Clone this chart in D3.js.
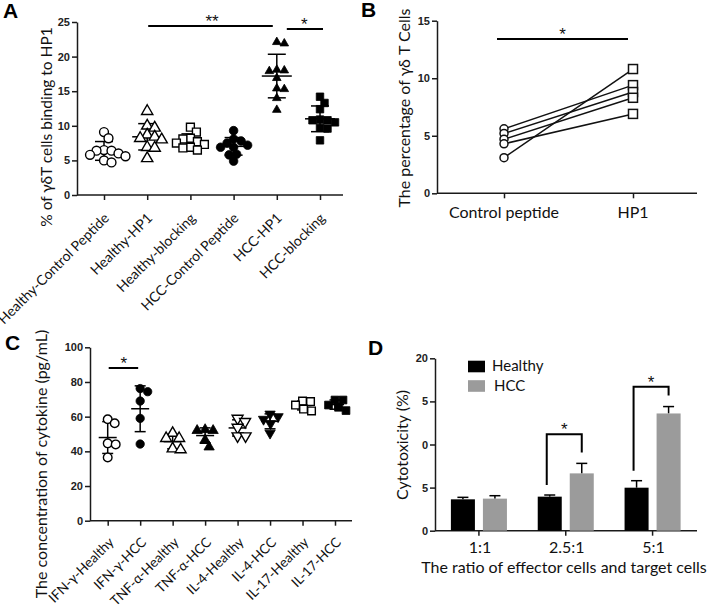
<!DOCTYPE html>
<html><head><meta charset="utf-8">
<script src="https://cdn.jsdelivr.net/npm/d3@7"></script>
<style>body{margin:0;background:#fff}</style>
</head><body>
<script>
// ---------- DATA ----------
// Panel A
const catsA = ["Healthy-Control Peptide","Healthy-HP1","Healthy-blocking","HCC-Control Peptide","HCC-HP1","HCC-blocking"];
const aHealthyControl = [9.1, 8.2, 6.5, 6.4, 6.4, 6.0, 5.8, 5.6, 5.0, 4.7];
const aHealthyHP1     = [12.1, 10.0, 9.7, 8.7, 8.4, 8.2, 8.0, 6.9, 6.8, 5.3];
const aHealthyBlock   = [9.8, 9.1, 8.2, 8.1, 7.7, 7.5, 7.3, 6.9, 6.8, 6.5];
const aHCCControl     = [9.3, 8.1, 7.8, 7.5, 7.2, 6.9, 6.9, 5.9, 5.8, 4.9];
const aHCCHP1         = [22.1, 21.9, 18.1, 18.0, 17.9, 16.9, 15.4, 15.3, 14.0, 12.3];
const aHCCBlock       = [14.2, 13.3, 12.4, 10.9, 10.8, 10.8, 10.5, 9.7, 9.6, 7.9];
const yTicksA = [0, 5, 10, 15, 20, 25];
// Panel B
const catsB = ["Control peptide", "HP1"];
const bControl = [5.6, 5.2, 4.7, 4.3, 3.1];
const bHP1     = [9.4, 8.8, 8.3, 6.9, 10.8];
const yTicksB = [0, 5, 10, 15];
// Panel C
const catsC = ["IFN-γ-Healthy","IFN-γ-HCC","TNF-α-Healthy","TNF-α-HCC","IL-4-Healthy","IL-4-HCC","IL-17-Healthy","IL-17-HCC"];
const cIFNHealthy = [58.5, 56.2, 44.6, 44.0, 36.5];
const cIFNHCC     = [76.2, 74.4, 69.0, 59.0, 44.2];
const cTNFHealthy = [50.5, 47.5, 47.5, 41.5, 41.0];
const cTNFHCC     = [52.5, 52.0, 52.0, 46.5, 42.5];
const cIL4Healthy = [59.0, 57.1, 53.8, 48.8, 48.8];
const cIL4HCC     = [61.5, 60.0, 58.5, 56.0, 50.5];
const cIL17Healthy= [69.0, 68.7, 66.7, 64.4, 63.3];
const cIL17HCC    = [69.6, 69.6, 66.7, 65.4, 63.5];
const yTicksC = [0, 20, 40, 60, 80, 100];
// Panel D
const ratiosD = ["1:1", "2.5:1", "5:1"];
const seriesD = ["Healthy", "HCC"];
const dHealthy    = [3.64, 3.95, 4.99];
const dHealthyErr = [0.23, 0.19, 0.81];
const dHCC        = [3.72, 6.65, 13.6];
const dHCCErr     = [0.34, 1.16, 0.80];
const yTicksD = [0, 5, 10, 15, 20];
const yTickLabelsD = ["0", "5", "0", "5", "20"];
const sigD = [{ratio: "2.5:1", top: 11.2}, {ratio: "5:1", top: 16.7}];

// ---------- HELPERS ----------
const W = 708, H = 616;
const svg = d3.select("body").append("svg").attr("width", W).attr("height", H);
svg.append("rect").attr("width", W).attr("height", H).attr("fill", "#fff");
const SANS = "Lato, 'Open Sans', sans-serif";
const TICKF = "'Liberation Sans', Arial, sans-serif";
const INK = "#1a1a1a";

function styleAxis(g) {
  g.selectAll("path,line").attr("stroke", INK).attr("stroke-width", 1.5);
  g.selectAll("text").attr("font-family", TICKF).attr("font-weight", "bold")
    .attr("font-size", 11).attr("fill", "#222");
}
function swarm(vals, y, D) {
  const pts = vals.map(v => ({v, y: y(v), off: 0}));
  const placed = [];
  pts.forEach(p => {
    for (let k = 0; k < 200; k++) {
      const off = (k % 2 ? 1 : -1) * Math.ceil(k / 2) * 0.5;
      if (placed.every(q => (off - q.off) ** 2 + (p.y - q.y) ** 2 >= D * D)) { p.off = off; break; }
    }
    placed.push(p);
  });
  return pts;
}
function letter(x, y, t) {
  svg.append("text").attr("x", x).attr("y", y).text(t)
    .attr("font-family", TICKF).attr("font-weight", "bold").attr("font-size", 21).attr("fill", "#000");
}
function ytitle(x, y, t, size) {
  svg.append("text").attr("transform", `translate(${x},${y}) rotate(-90)`)
    .attr("text-anchor", "middle").attr("font-family", SANS).attr("font-size", size)
    .attr("fill", "#111").text(t);
}
function star(x, y, t) {
  svg.append("text").attr("x", x).attr("y", y).attr("text-anchor", "middle")
    .attr("font-family", TICKF).attr("font-size", 17).attr("fill", "#111").text(t);
}
function hline(x1, x2, y) {
  svg.append("line").attr("x1", x1).attr("x2", x2).attr("y1", y).attr("y2", y)
    .attr("stroke", "#000").attr("stroke-width", 2);
}
function drawMarker(g, shape, filled, x, y, size) {
  const s = {circle: d3.symbolCircle, triangle: d3.symbolTriangle, tridown: d3.symbolTriangle, square: d3.symbolSquare}[shape];
  const rot = shape === "tridown" ? " rotate(180)" : "";
  g.append("path").attr("d", d3.symbol(s, size)())
    .attr("transform", `translate(${x},${y})${rot}`)
    .attr("fill", filled ? "#000" : "#fff").attr("stroke", "#000").attr("stroke-width", filled ? 0.8 : 1.4);
}
function meanSD(g, x, vals, y, hw, cw) {
  const m = d3.mean(vals), sd = d3.deviation(vals);
  const L = (x1, x2, y1, y2) => g.append("line").attr("x1", x1).attr("x2", x2).attr("y1", y1).attr("y2", y2)
    .attr("stroke", "#000").attr("stroke-width", 1.5);
  L(x - hw, x + hw, y(m), y(m));
  L(x, x, y(m - sd), y(m + sd));
  L(x - cw, x + cw, y(m + sd), y(m + sd));
  L(x - cw, x + cw, y(m - sd), y(m - sd));
}

// ---------- PANEL A ----------
{
  const valsA = [aHealthyControl, aHealthyHP1, aHealthyBlock, aHCCControl, aHCCHP1, aHCCBlock];
  const styleA = [["circle", false, 62], ["triangle", false, 55], ["square", false, 62],
                  ["circle", true, 58], ["triangle", true, 32], ["square", true, 56]];
  const y = d3.scaleLinear([0, 25], [195, 22]);
  const x = d3.scalePoint(catsA, [104, 320]);
  const g = svg.append("g");
  const ya = g.append("g").attr("transform", "translate(77,0)")
    .call(d3.axisLeft(y).tickValues(yTicksA).tickSize(5).tickSizeOuter(0).tickPadding(2));
  styleAxis(ya);
  const xa = g.append("g").attr("transform", "translate(0,195)")
    .call(d3.axisBottom(x).tickSize(5).tickSizeOuter(0).tickFormat(""));
  styleAxis(xa);
  xa.select(".domain").attr("d", "M77,0H343");
  catsA.forEach(c => {
    g.append("text").attr("transform", `translate(${x(c) + 6},${219}) rotate(-45)`)
      .attr("text-anchor", "end").attr("font-family", SANS).attr("font-size", 14)
      .attr("fill", "#111").text(c);
  });
  valsA.forEach((vals, i) => {
    const cx = x(catsA[i]);
    meanSD(g, cx, vals, y, 15, 9);
    swarm(vals, y, 7.5).forEach(p => drawMarker(g, styleA[i][0], styleA[i][1], cx + p.off, p.y, styleA[i][2]));
  });
  ytitle(52, 127, "% of γδT cells binding to HP1", 15.5);
  hline(x("Healthy-HP1") + 1, x("HCC-HP1") - 4, 26);
  star((x("Healthy-HP1") + x("HCC-HP1")) / 2, 27, "**");
  hline(x("HCC-HP1") + 10, x("HCC-blocking") + 3, 29);
  star((x("HCC-HP1") + x("HCC-blocking")) / 2 + 6, 30, "*");
  letter(3, 18, "A");
}

// ---------- PANEL B ----------
{
  const y = d3.scaleLinear([0, 15], [193.3, 20.7]);
  const x = d3.scalePoint(catsB, [504, 633]);
  const g = svg.append("g");
  const ya = g.append("g").attr("transform", "translate(437,0)")
    .call(d3.axisLeft(y).tickValues(yTicksB).tickSize(5).tickSizeOuter(0).tickPadding(2));
  styleAxis(ya);
  const xa = g.append("g").attr("transform", "translate(0,193.3)")
    .call(d3.axisBottom(x).tickSize(5).tickSizeOuter(0).tickFormat(""));
  styleAxis(xa);
  xa.select(".domain").attr("d", "M437,0H697");
  catsB.forEach(c => g.append("text").attr("x", x(c)).attr("y", 218).attr("text-anchor", "middle")
    .attr("font-family", SANS).attr("font-size", 16).attr("fill", "#111").text(c));
  bControl.forEach((v, i) => {
    g.append("line").attr("x1", x(catsB[0])).attr("y1", y(v)).attr("x2", x(catsB[1])).attr("y2", y(bHP1[i]))
      .attr("stroke", "#111").attr("stroke-width", 1.5);
  });
  bControl.forEach(v => g.append("circle").attr("cx", x(catsB[0])).attr("cy", y(v)).attr("r", 4)
    .attr("fill", "#fff").attr("stroke", "#111").attr("stroke-width", 1.5));
  bHP1.forEach(v => g.append("rect").attr("x", x(catsB[1]) - 4.5).attr("y", y(v) - 4.5).attr("width", 9).attr("height", 9)
    .attr("fill", "#fff").attr("stroke", "#111").attr("stroke-width", 1.5));
  ytitle(410, 108, "The percentage of γδ T Cells", 16);
  hline(x(catsB[0]) - 7, x(catsB[1]) - 5, 39);
  star((x(catsB[0]) + x(catsB[1])) / 2 - 6, 40, "*");
  letter(361, 17, "B");
}

// ---------- PANEL C ----------
{
  const valsC = [cIFNHealthy, cIFNHCC, cTNFHealthy, cTNFHCC, cIL4Healthy, cIL4HCC, cIL17Healthy, cIL17HCC];
  const styleC = [["circle", false, 58], ["circle", true, 55], ["triangle", false, 52], ["triangle", true, 46],
                  ["tridown", false, 52], ["tridown", true, 46], ["square", false, 58], ["square", true, 60]];
  const y = d3.scaleLinear([0, 100], [520.7, 347.3]);
  const x = d3.scalePoint(catsC, [107.7, 335]);
  const g = svg.append("g");
  const ya = g.append("g").attr("transform", "translate(90,0)")
    .call(d3.axisLeft(y).tickValues(yTicksC).tickSize(5).tickSizeOuter(0).tickPadding(2));
  styleAxis(ya);
  const xa = g.append("g").attr("transform", "translate(0,520.7)")
    .call(d3.axisBottom(x).tickSize(5).tickSizeOuter(0).tickFormat(""));
  styleAxis(xa);
  xa.select(".domain").attr("d", "M90,0H352");
  catsC.forEach(c => {
    g.append("text").attr("transform", `translate(${x(c) + 7},${543}) rotate(-45)`)
      .attr("text-anchor", "end").attr("font-family", SANS).attr("font-size", 13.5)
      .attr("fill", "#111").text(c);
  });
  valsC.forEach((vals, i) => {
    const cx = x(catsC[i]);
    meanSD(g, cx, vals, y, 9, 5.5);
    swarm(vals, y, 8).forEach(p => drawMarker(g, styleC[i][0], styleC[i][1], cx + p.off, p.y, styleC[i][2]));
  });
  ytitle(47, 464, "The concentration of cytokine (pg/mL)", 16);
  hline(x(catsC[0]) + 1, x(catsC[1]) - 2, 368);
  star((x(catsC[0]) + x(catsC[1])) / 2, 369, "*");
  letter(5, 350, "C");
}

// ---------- PANEL D ----------
{
  const y = d3.scaleLinear([0, 20], [530.7, 358.3]);
  const x0 = d3.scaleBand(ratiosD, [435.5, 696]);
  const x1 = d3.scaleBand(seriesD, [15.4, x0.bandwidth() - 15.4]).paddingInner(0.25);
  const g = svg.append("g");
  const ya = g.append("g").attr("transform", "translate(435,0)")
    .call(d3.axisLeft(y).tickValues(yTicksD).tickSize(5).tickSizeOuter(0).tickPadding(2)
      .tickFormat((d, i) => yTickLabelsD[i]));
  styleAxis(ya);
  const xa = g.append("g").attr("transform", "translate(0,530.7)")
    .call(d3.axisBottom(x0).tickSize(5).tickSizeOuter(0).tickFormat(""));
  styleAxis(xa);
  xa.select(".domain").attr("d", "M435,0H697");
  ratiosD.forEach(r => g.append("text").attr("x", x0(r) + x0.bandwidth() / 2 + 1).attr("y", 553)
    .attr("text-anchor", "middle").attr("font-family", SANS).attr("font-size", 16).attr("fill", "#111").text(r));
  g.append("text").attr("x", 564).attr("y", 573).attr("text-anchor", "middle").attr("font-family", SANS)
    .attr("font-size", 16).attr("fill", "#111").text("The ratio of effector cells and target cells");
  const colors = {Healthy: "#000", HCC: "#9b9b9b"};
  const vals = {Healthy: dHealthy, HCC: dHCC}, errs = {Healthy: dHealthyErr, HCC: dHCCErr};
  seriesD.forEach(s => {
    ratiosD.forEach((r, i) => {
      const bx = x0(r) + x1(s), bw = x1.bandwidth(), cx = bx + bw / 2;
      const top = y(vals[s][i] + errs[s][i]);
      g.append("line").attr("x1", cx).attr("x2", cx).attr("y1", y(vals[s][i])).attr("y2", top)
        .attr("stroke", "#000").attr("stroke-width", 1.5);
      g.append("line").attr("x1", cx - 5.5).attr("x2", cx + 5.5).attr("y1", top).attr("y2", top)
        .attr("stroke", "#000").attr("stroke-width", 1.5);
      g.append("rect").attr("x", bx).attr("y", y(vals[s][i])).attr("width", bw)
        .attr("height", y(0) - y(vals[s][i])).attr("fill", colors[s]);
    });
  });
  // legend
  seriesD.forEach((s, i) => {
    g.append("rect").attr("x", 468).attr("y", 360.7 + i * 19.5).attr("width", 17).attr("height", 11.6).attr("fill", colors[s]);
    g.append("text").attr("x", 492 + i * 2).attr("y", 371 + i * 19.5).attr("font-family", SANS)
      .attr("font-size", 15).attr("fill", "#111").text(s);
  });
  // significance brackets
  sigD.forEach(sg => {
    const i = ratiosD.indexOf(sg.ratio);
    const xl = x0(sg.ratio) + x1("Healthy") + x1.bandwidth() / 2 - 3;
    const xr = x0(sg.ratio) + x1("HCC") + x1.bandwidth() / 2;
    const yl = y(dHealthy[i] + dHealthyErr[i]) - 10;
    const yr = y(dHCC[i] + dHCCErr[i]) - 11;
    const yt = y(sg.top);
    g.append("path").attr("d", `M${xl},${yl}V${yt}H${xr}V${yr}`).attr("fill", "none")
      .attr("stroke", "#000").attr("stroke-width", 2);
    star((xl + xr) / 2, yt + 1, "*");
  });
  ytitle(408, 445, "Cytotoxicity (%)", 16);
  letter(368, 355, "D");
}
</script>
</body></html>
